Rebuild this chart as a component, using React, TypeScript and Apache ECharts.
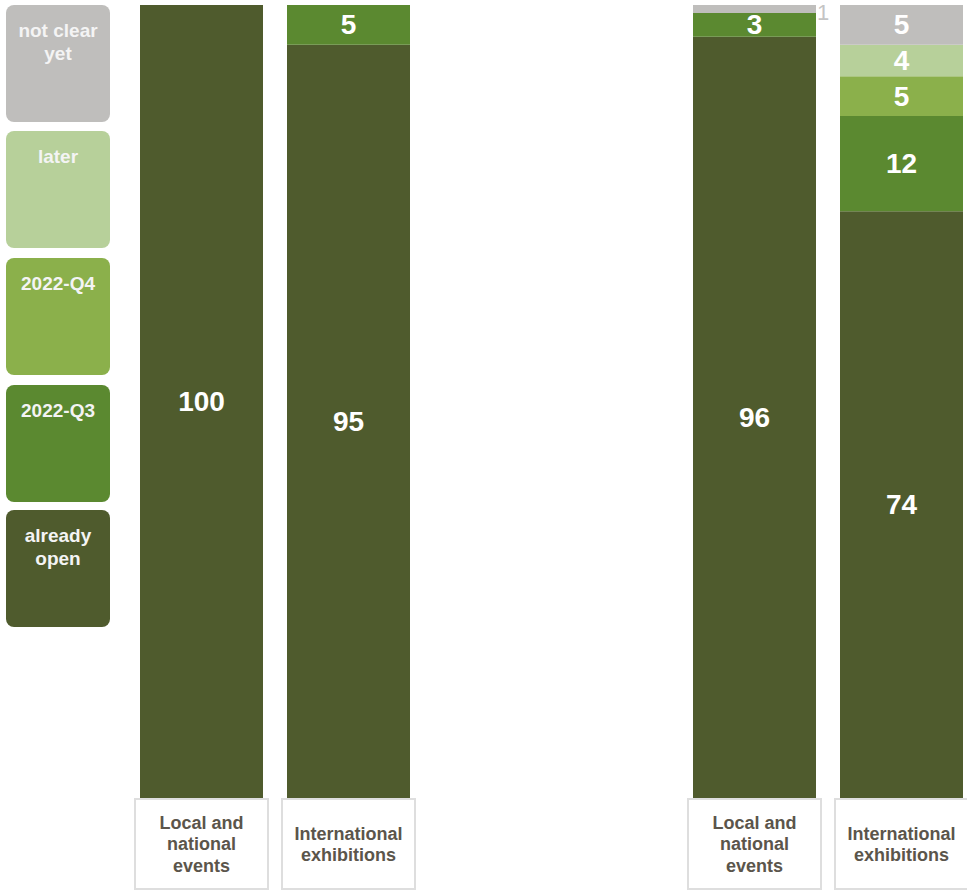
import React, { useEffect, useRef } from "react";
import * as echarts from "echarts";

const categories = ["Local and\nnational\nevents", "International\nexhibitions"];
const seriesNames = ["already open", "2022-Q3", "2022-Q4", "later", "not clear yet"];
const legendLabels = ["already\nopen", "2022-Q3", "2022-Q4", "later", "not clear\nyet"];
const seriesColors = ["#4f5b2d", "#5b8930", "#8bb04b", "#b7d09a", "#bfbebc"];

// left panel
const leftAlreadyOpen = [100, 95];
const leftQ3 = [0, 5];
const leftQ4 = [0, 0];
const leftLater = [0, 0];
const leftNotClear = [0, 0];

// right panel
const rightAlreadyOpen = [96, 74];
const rightQ3 = [3, 12];
const rightQ4 = [0, 5];
const rightLater = [0, 4];
const rightNotClear = [1, 5];

const leftPanel = [leftAlreadyOpen, leftQ3, leftQ4, leftLater, leftNotClear];
const rightPanel = [rightAlreadyOpen, rightQ3, rightQ4, rightLater, rightNotClear];

const FONT = "'Liberation Sans', Arial, sans-serif";

function buildSeries(panel: number[][], axisIndex: number) {
  return panel.map((vals, si) => ({
    name: seriesNames[si],
    type: "bar",
    stack: "total" + axisIndex,
    xAxisIndex: axisIndex,
    yAxisIndex: axisIndex,
    barWidth: 123,
    itemStyle: { color: seriesColors[si] },
    data: vals.map((v) => {
      if (v > 0 && v < 2) {
        return {
          value: v,
          label: {
            show: true,
            position: "right",
            distance: 1,
            color: "#c4c4c4",
            fontWeight: "normal",
            fontSize: 22,
            lineHeight: 22,
            fontFamily: FONT,
            offset: [0, 4],
          },
        };
      }
      return {
        value: v,
        label: {
          show: v > 0,
          position: "inside",
          color: "#ffffff",
          fontWeight: "bold",
          fontSize: 28,
          fontFamily: FONT,
        },
      };
    }),
  }));
}

function xAxisFor(gridIndex: number) {
  return {
    type: "category",
    gridIndex,
    data: categories.map((c) => {
      const lines = c.split("\n").length;
      const pad = Math.round((88 - lines * 21.5) / 2);
      return { value: c, textStyle: { padding: [pad, 0, 88 - lines * 21.5 - pad, 0] } };
    }),
    axisLine: { show: false },
    axisTick: { show: false },
    axisLabel: {
      interval: 0,
      margin: 2,
      color: "#5b554b",
      fontWeight: "bold",
      fontSize: 18,
      fontFamily: FONT,
      lineHeight: 21.5,
      width: 131,
      align: "center",
      backgroundColor: "#ffffff",
      borderColor: "#dedede",
      borderWidth: 2,
    },
  };
}

function yAxisFor(gridIndex: number) {
  return {
    type: "value",
    gridIndex,
    min: 0,
    max: 100,
    show: false,
    splitLine: { show: false },
  };
}

export default function App() {
  const ref = useRef<HTMLDivElement>(null);
  useEffect(() => {
    if (!ref.current) return;
    const chart = echarts.init(ref.current, null, { renderer: "svg" });
    const legendTops = [510, 385, 258, 131, 5];
    const graphic = seriesNames.map((name, i) => ({
      type: "group",
      children: [
        {
          type: "rect",
          shape: { x: 6, y: legendTops[i], width: 104, height: 117, r: 8 },
          style: { fill: seriesColors[i] },
        },
        {
          type: "text",
          x: 58,
          y: legendTops[i] + 14,
          style: {
            text: legendLabels[i],
            align: "center",
            verticalAlign: "top",
            fill: "#f4f4f4",
            font: "bold 19px " + FONT,
            lineHeight: 23,
          },
        },
      ],
    }));
    chart.setOption({
      animation: false,
      grid: [
        { left: 128, width: 294, top: 5, height: 793, outerBoundsMode: "none" },
        { left: 681, width: 294, top: 5, height: 793, outerBoundsMode: "none" },
      ],
      xAxis: [xAxisFor(0), xAxisFor(1)],
      yAxis: [yAxisFor(0), yAxisFor(1)],
      series: [...buildSeries(leftPanel, 0), ...buildSeries(rightPanel, 1)],
      graphic,
    });
    return () => chart.dispose();
  }, []);
  return (
    <div
      ref={ref}
      style={{ position: "absolute", left: 0, top: 0, width: 967, height: 891, background: "#fff" }}
    />
  );
}
